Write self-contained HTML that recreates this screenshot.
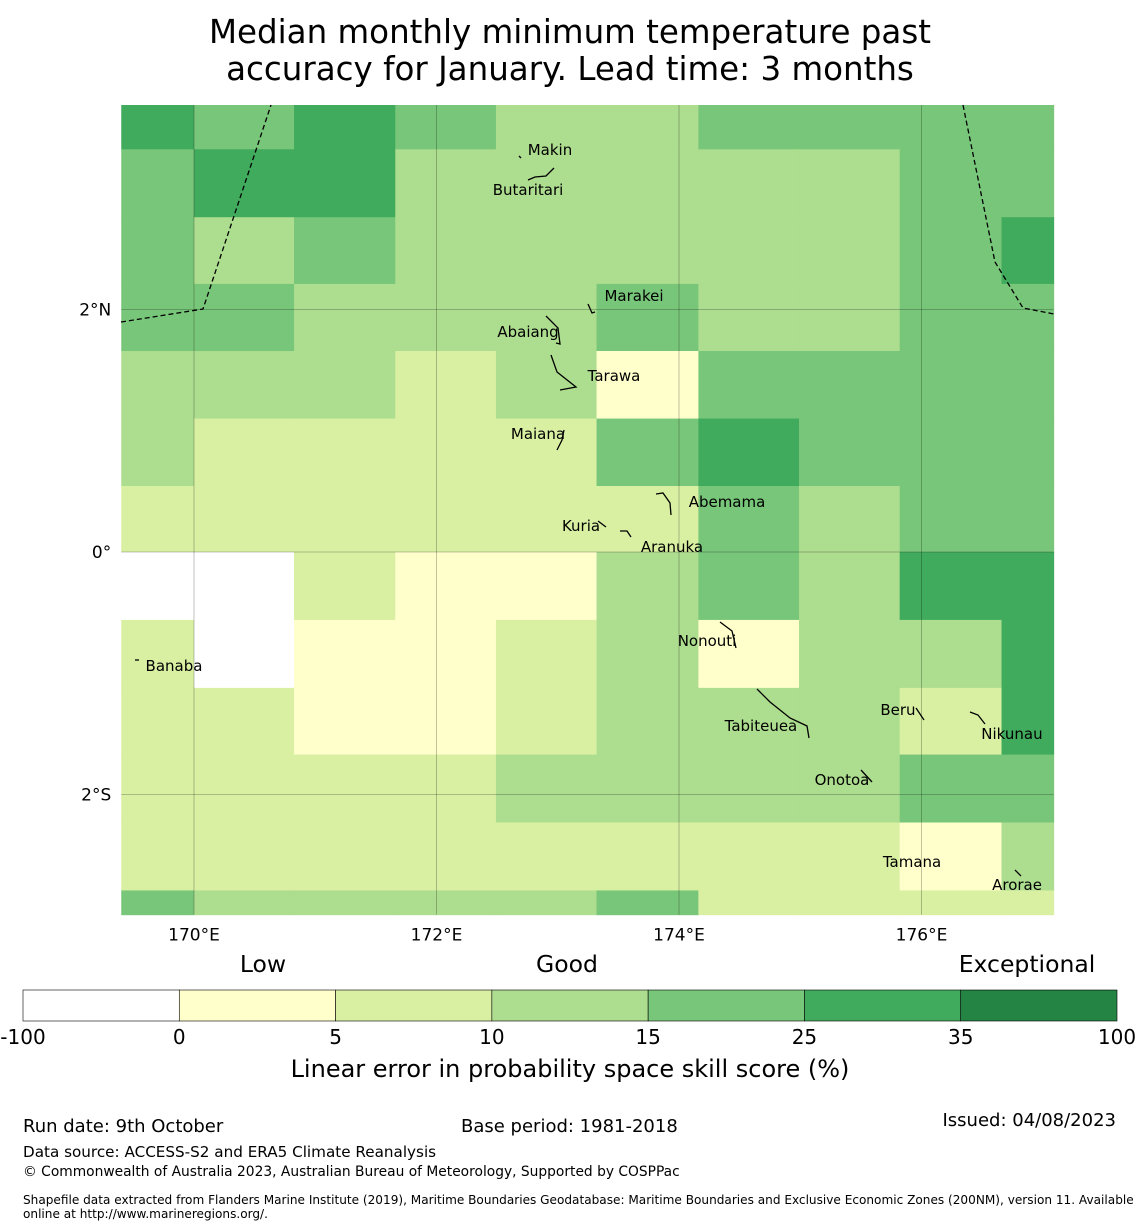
<!DOCTYPE html>
<html><head><meta charset="utf-8"><style>
body{margin:0;background:#fff;width:1140px;height:1230px;overflow:hidden;font-family:"Liberation Sans","DejaVu Sans",sans-serif}
svg{display:block}
</style></head><body>
<svg id="chart" width="1140" height="1230" font-family="DejaVu Sans, Liberation Sans, sans-serif">
<text x="570" y="43" text-anchor="middle" font-size="32.5">Median monthly minimum temperature past</text>
<text x="570" y="80" text-anchor="middle" font-size="32.5">accuracy for January. Lead time: 3 months</text>
<g id="cells"></g>
<g id="grid"></g>
<g id="eez"></g>
<g id="islands"></g>
<g id="ticks"></g>
<g id="cbar"></g>
<text x="263" y="972" text-anchor="middle" font-size="23.5">Low</text>
<text x="567" y="972" text-anchor="middle" font-size="23.5">Good</text>
<text x="1027" y="972" text-anchor="middle" font-size="23.5">Exceptional</text>
<text x="570" y="1077" text-anchor="middle" font-size="24">Linear error in probability space skill score (%)</text>
<text x="23" y="1132" font-size="18">Run date: 9th October</text>
<text x="461" y="1132" font-size="18">Base period: 1981-2018</text>
<text x="1116" y="1126" text-anchor="end" font-size="18">Issued: 04/08/2023</text>
<text x="23" y="1157" font-size="15.2">Data source: ACCESS-S2 and ERA5 Climate Reanalysis</text>
<text x="23" y="1176" font-size="13.8">© Commonwealth of Australia 2023, Australian Bureau of Meteorology, Supported by COSPPac</text>
<text x="23" y="1204" font-size="12.1">Shapefile data extracted from Flanders Marine Institute (2019), Maritime Boundaries Geodatabase: Maritime Boundaries and Exclusive Economic Zones (200NM), version 11. Available</text>
<text x="23" y="1218" font-size="12.1">online at http://www.marineregions.org/.</text>
</svg>
<script>
const NS='http://www.w3.org/2000/svg';
const lonEdges=[169.4,170.0,170.825,171.66,172.49,173.32,174.16,174.99,175.82,176.66,177.09];
const latEdges=[3.685,3.32,2.76,2.21,1.657,1.10,0.544,0,-0.56,-1.12,-1.67,-2.23,-2.79,-2.99];
const skillClass=[
[5,4,5,4,3,3,4,4,4,4],
[4,5,5,3,3,3,3,3,4,4],
[4,3,4,3,3,3,3,3,4,5],
[4,4,3,3,3,4,3,3,4,4],
[3,3,3,2,3,1,4,4,4,4],
[3,2,2,2,2,4,5,4,4,4],
[2,2,2,2,2,2,4,3,4,4],
[0,0,2,1,1,3,4,3,5,5],
[2,0,1,1,2,3,1,3,3,5],
[2,2,1,1,2,3,3,3,2,5],
[2,2,2,2,3,3,3,3,4,4],
[2,2,2,2,2,2,2,2,1,3],
[4,3,3,3,3,4,2,2,2,2]];
const classColors=['#ffffff','#ffffcc','#d9f0a3','#addd8e','#78c679','#41ab5d','#238443'];
const cbarTicks=['-100','0','5','10','15','25','35','100'];
const lonTicks=[170,172,174,176];
const latTicks=[2,0,-2];
const islands=[['Makin',3.273,172.936],['Butaritari',2.943,172.755],['Marakei',2.069,173.629],['Abaiang',1.772,172.755],['Tarawa',1.41,173.464],['Maiana',0.932,172.837],['Abemama',0.371,174.396],['Kuria',0.173,173.192],['Aranuka',0.0,173.942],['Banaba',-0.981,169.835],['Nonouti',-0.775,174.231],['Tabiteuea',-1.476,174.676],['Beru',-1.344,175.806],['Nikunau',-1.542,176.746],['Onotoa',-1.921,175.344],['Tamana',-2.597,175.922],['Arorae',-2.787,176.788]];
const X=lon=>194+(lon-170)*121.25, Y=lat=>552-lat*121.3;
function mk(tag,attrs,parent){const e=document.createElementNS(NS,tag);for(const k in attrs)e.setAttribute(k,attrs[k]);parent.appendChild(e);return e;}
const cells=document.getElementById('cells');
skillClass.forEach((row,r)=>row.forEach((c,ci)=>{
 const x0=X(lonEdges[ci]),x1=X(lonEdges[ci+1]),y0=Y(latEdges[r]),y1=Y(latEdges[r+1]);
 const e=mk('rect',{x:x0,y:y0,width:x1-x0+0.5,height:y1-y0+0.5,fill:classColors[c]},cells);
 
 
}));
const grid=document.getElementById('grid'),ticks=document.getElementById('ticks');
const L=X(lonEdges[0]),R=X(lonEdges[lonEdges.length-1]),T=Y(latEdges[0]),B=Y(latEdges[latEdges.length-1]);
lonTicks.forEach(l=>{
 const x=X(l);
 const g=mk('line',{x1:x,x2:x,y1:T,y2:B,stroke:'rgba(0,0,0,0.3)','stroke-width':0.8},grid);
 
 
 const t=mk('text',{x:x,y:B+26,'text-anchor':'middle','font-size':17},ticks);
 t.textContent=l+'°E';
 
 
});
latTicks.forEach(l=>{
 const y=Y(l);
 const g=mk('line',{x1:L,x2:R,y1:y,y2:y,stroke:'rgba(0,0,0,0.3)','stroke-width':0.8},grid);
 
 
 const t=mk('text',{x:L-10,y:y+6,'text-anchor':'end','font-size':17},ticks);
 t.textContent=l===0?'0°':Math.abs(l)+'°'+(l>0?'N':'S');
 
 
});
const eez=document.getElementById('eez');
[[[121,322],[203,309],[271,105]],[[963,105],[995,262],[1023,308],[1054,314]]].forEach(pts=>{
 const p=mk('polyline',{points:pts.map(q=>q.join(',')).join(' '),fill:'none',stroke:'#000','stroke-width':1.3,'stroke-dasharray':'5,3'},eez);
 
 
});
const isl=document.getElementById('islands');
islands.forEach(([n,lat,lon])=>{
 const x=X(lon),y=Y(lat);
 const t=mk('text',{x:x,y:y,'text-anchor':'middle','font-size':15},isl);
 t.textContent=n;
 
 
});
[[[546,316],[558,328],[560,344],[556,343]],[[551,355],[557,372],[576,387],[560,390]],[[564,430],[562,440],[557,450]],[[588,304],[592,313],[595,312]],[[656,494],[663,493],[670,503],[671,515]],[[720,622],[732,631],[736,648]],[[757,689],[770,702],[790,718],[807,726],[809,738]],[[916,708],[924,720]],[[970,712],[978,715],[985,724]],[[861,770],[872,782]],[[1015,870],[1021,876]],[[528,180],[535,177],[546,176],[554,168]],[[620,531],[627,531],[631,537]],[[519,156],[521,158]],[[135,660],[139,660]],[[598,521],[606,527]]].forEach(pts=>{
 const p=mk('polyline',{points:pts.map(q=>q.join(',')).join(' '),fill:'none',stroke:'#000','stroke-width':1.3},isl);
 
 
});
const cb=document.getElementById('cbar');
const cx0=23,cx1=1117,cw=(cx1-cx0)/7;
for(let i=0;i<7;i++){
 const r=mk('rect',{x:cx0+i*cw,y:990,width:cw,height:31,fill:classColors[i],stroke:'#000','stroke-width':0.6},cb);
 
 
}
cbarTicks.forEach((t,i)=>{
 const e=mk('text',{x:cx0+i*cw,y:1044,'text-anchor':'middle','font-size':20},cb);
 e.textContent=t;
 
 
});
</script>
</body></html>
